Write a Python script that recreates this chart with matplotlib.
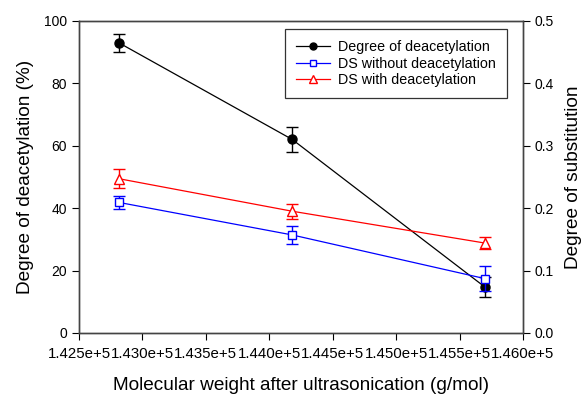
import matplotlib
matplotlib.use('Agg')
import matplotlib.pyplot as plt
from matplotlib.lines import Line2D

plt.rcParams['font.family'] = ['Liberation Sans', 'DejaVu Sans']

# Data
mw = [1.42818e5, 1.44181e5, 1.45700e5]
dd = [92.9, 62.0, 14.7]
dd_err = [3.0, 4.0, 3.2]
ds_without = [0.209, 0.157, 0.087]
ds_without_err = [0.010, 0.015, 0.020]
ds_with = [0.247, 0.195, 0.144]
ds_with_err = [0.015, 0.012, 0.009]

xticks = [1.425e5, 1.430e5, 1.435e5, 1.440e5, 1.445e5, 1.450e5, 1.455e5, 1.460e5]
xtick_labels = ['1.425e+5', '1.430e+5', '1.435e+5', '1.440e+5',
                '1.445e+5', '1.450e+5', '1.455e+5', '1.460e+5']
series_names = ['Degree of deacetylation', 'DS without deacetylation', 'DS with deacetylation']

fig = plt.figure(figsize=(5.85, 3.94), dpi=100)
ax = fig.add_axes([0.135, 0.155, 0.759, 0.792])
ax2 = ax.twinx()

ax.errorbar(mw, dd, yerr=dd_err, color='black', marker='o', markersize=6.5,
            lw=0.9, capsize=4, elinewidth=1, capthick=1)
ax2.errorbar(mw, ds_without, yerr=ds_without_err, color='#0000ff', marker='s',
             markersize=6, markerfacecolor='white', lw=0.9, capsize=4,
             elinewidth=1, capthick=1)
ax2.errorbar(mw, ds_with, yerr=ds_with_err, color='#ff0000', marker='^',
             markersize=6.5, markerfacecolor='white', lw=0.9, capsize=4,
             elinewidth=1, capthick=1)

ax.set_xlim(1.425e5, 1.460e5)
ax.set_ylim(0, 100)
ax2.set_ylim(0, 0.5)
ax.set_xticks(xticks)
ax.set_xticklabels(xtick_labels)
ax.set_yticks([0, 20, 40, 60, 80, 100])
ax2.set_yticks([0.0, 0.1, 0.2, 0.3, 0.4, 0.5])
ax2.set_yticklabels(['0.0', '0.1', '0.2', '0.3', '0.4', '0.5'])

for a in (ax, ax2):
    a.tick_params(direction='out', length=5, width=0.8, labelsize=10, colors='black')
    for s in a.spines.values():
        s.set_color('#444444')
        s.set_linewidth(1)
ax.tick_params(axis='x', pad=5, labelsize=10.8)

ax.set_xlabel('Molecular weight after ultrasonication (g/mol)', fontsize=13.7, labelpad=12)
ax.set_ylabel('Degree of deacetylation (%)', fontsize=13.7, labelpad=7)
ax2.set_ylabel('Degree of substitution', fontsize=13.7, labelpad=8)

handles = [
    Line2D([], [], color='black', marker='o', markersize=5, lw=0.9),
    Line2D([], [], color='#0000ff', marker='s', markersize=5, markerfacecolor='white', lw=0.9),
    Line2D([], [], color='#ff0000', marker='^', markersize=5.5, markerfacecolor='white', lw=0.9),
]
leg = ax2.legend(handles, series_names, loc='upper right', bbox_to_anchor=(0.964, 0.974),
                 fontsize=10.3, frameon=True, fancybox=False, edgecolor='black',
                 handlelength=2.4, borderpad=0.75, labelspacing=0.2, handletextpad=0.56,
                 borderaxespad=0)
leg.get_frame().set_linewidth(0.9)

fig.savefig('out.png', dpi=100, facecolor='white')
